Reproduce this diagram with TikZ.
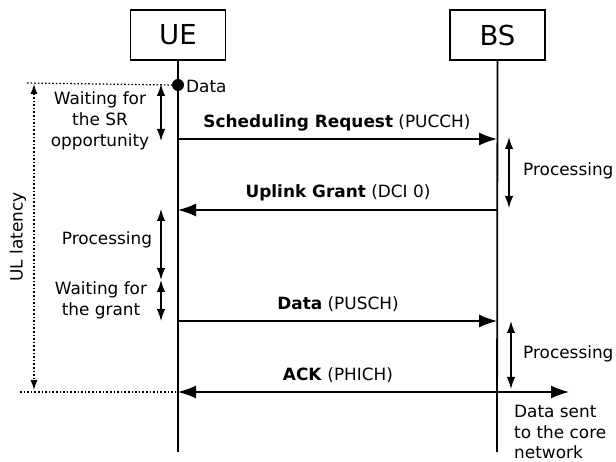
\documentclass[tikz,border=0pt]{standalone}
\usepackage{fontspec}
\setmainfont{DejaVu Sans}
\usetikzlibrary{arrows.meta}
\begin{document}
\begin{tikzpicture}[x=1pt,y=-1pt,
  lbl/.style={font=\fontsize{16.9}{21}\selectfont, inner sep=0pt, align=center},
  actor/.style={draw, line width=1.4pt, minimum width=95pt, minimum height=50pt, inner sep=0pt, font=\fontsize{27.5}{30}\selectfont},
  life/.style={line width=1.8pt},
  msg/.style={line width=1.5pt, -{Latex[length=18pt,width=13pt]}},
  dur/.style={line width=1.4pt, {Latex[length=12pt,width=8.5pt]}-{Latex[length=12pt,width=8.5pt]}},
  lat/.style={line width=1.2pt, dash pattern=on 1.6pt off 2pt},
]
\useasboundingbox (0,0) rectangle (616,462);
% actors
\node[actor] (ue) at (178,35) {UE};
\node[actor] (bs) at (497.5,35) {BS};
\coordinate (ueend) at (178,452);
\coordinate (bsend) at (497,452);
\draw[life] (ue.south) -- (ueend);
\draw[life] (bs.south) -- (bsend);
% data dot
\node[circle, fill, inner sep=0pt, minimum size=12pt] (dot) at (178,85) {};
\node[lbl, anchor=west] (datalbl) at (186,86) {Data};
% latency
\coordinate (lt1) at (27,83);
\coordinate (lb1) at (20,392);
\coordinate (ub) at (178,392);
\coordinate (va) at (34,84);
\coordinate (vb) at (34,390);
\draw[lat] (lt1) -- (dot.west);
\draw[lat] (lb1) -- (ub);
\draw[lat, {Latex[length=10pt,width=7pt]}-{Latex[length=10pt,width=7pt]}] (va) -- (vb);
\node[lbl, rotate=90] (ullat) at (18,237) {UL latency};
% waiting SR
\coordinate (w1a) at (161,84);
\coordinate (w1b) at (161,141);
\draw[dur] (w1a) -- (w1b);
\node[lbl] (w1lbl) at (100,121) {Waiting for\\the SR\\opportunity};
% SR
\coordinate (sra) at (178,139);
\coordinate (srb) at (497,139);
\draw[msg] (sra) -- (srb);
\node[lbl] (srlbl) at (337,123) {\textbf{Scheduling Request} (PUCCH)};
% BS processing 1
\coordinate (p1a) at (509,137);
\coordinate (p1b) at (509,208);
\draw[dur] (p1a) -- (p1b);
\node[lbl, anchor=west] (p1lbl) at (523,171) {Processing};
% UL grant
\coordinate (uga) at (497,210);
\coordinate (ugb) at (178,210);
\draw[msg] (uga) -- (ugb);
\node[lbl] (uglbl) at (338,193) {\textbf{Uplink Grant} (DCI 0)};
% UE processing
\coordinate (p2a) at (161,209);
\coordinate (p2b) at (161,280);
\draw[dur] (p2a) -- (p2b);
\node[lbl] (p2lbl) at (107,240) {Processing};
% waiting grant
\coordinate (w2a) at (161,280);
\coordinate (w2b) at (161,321);
\draw[dur] (w2a) -- (w2b);
\node[lbl] (w2lbl) at (101,300) {Waiting for\\the grant};
% Data
\coordinate (da) at (178,321);
\coordinate (db) at (497,321);
\draw[msg] (da) -- (db);
\node[lbl] (dlbl) at (338,304) {\textbf{Data} (PUSCH)};
% BS processing 2
\coordinate (p3a) at (511,321);
\coordinate (p3b) at (511,389);
\draw[dur] (p3a) -- (p3b);
\node[lbl, anchor=west] (p3lbl) at (523,354) {Processing};
% ACK
\coordinate (aa) at (497,392);
\coordinate (ab) at (178,392);
\coordinate (core) at (569,392);
\draw[msg] (aa) -- (ab);
\draw[msg] (aa) -- (core);
\node[lbl] (albl) at (338,375) {\textbf{ACK} (PHICH)};
\node[lbl, anchor=west, align=left, font=\fontsize{16.9}{20.5}\selectfont] (corelbl) at (514,432) {Data sent\\to the core\\network};
\end{tikzpicture}
\end{document}
